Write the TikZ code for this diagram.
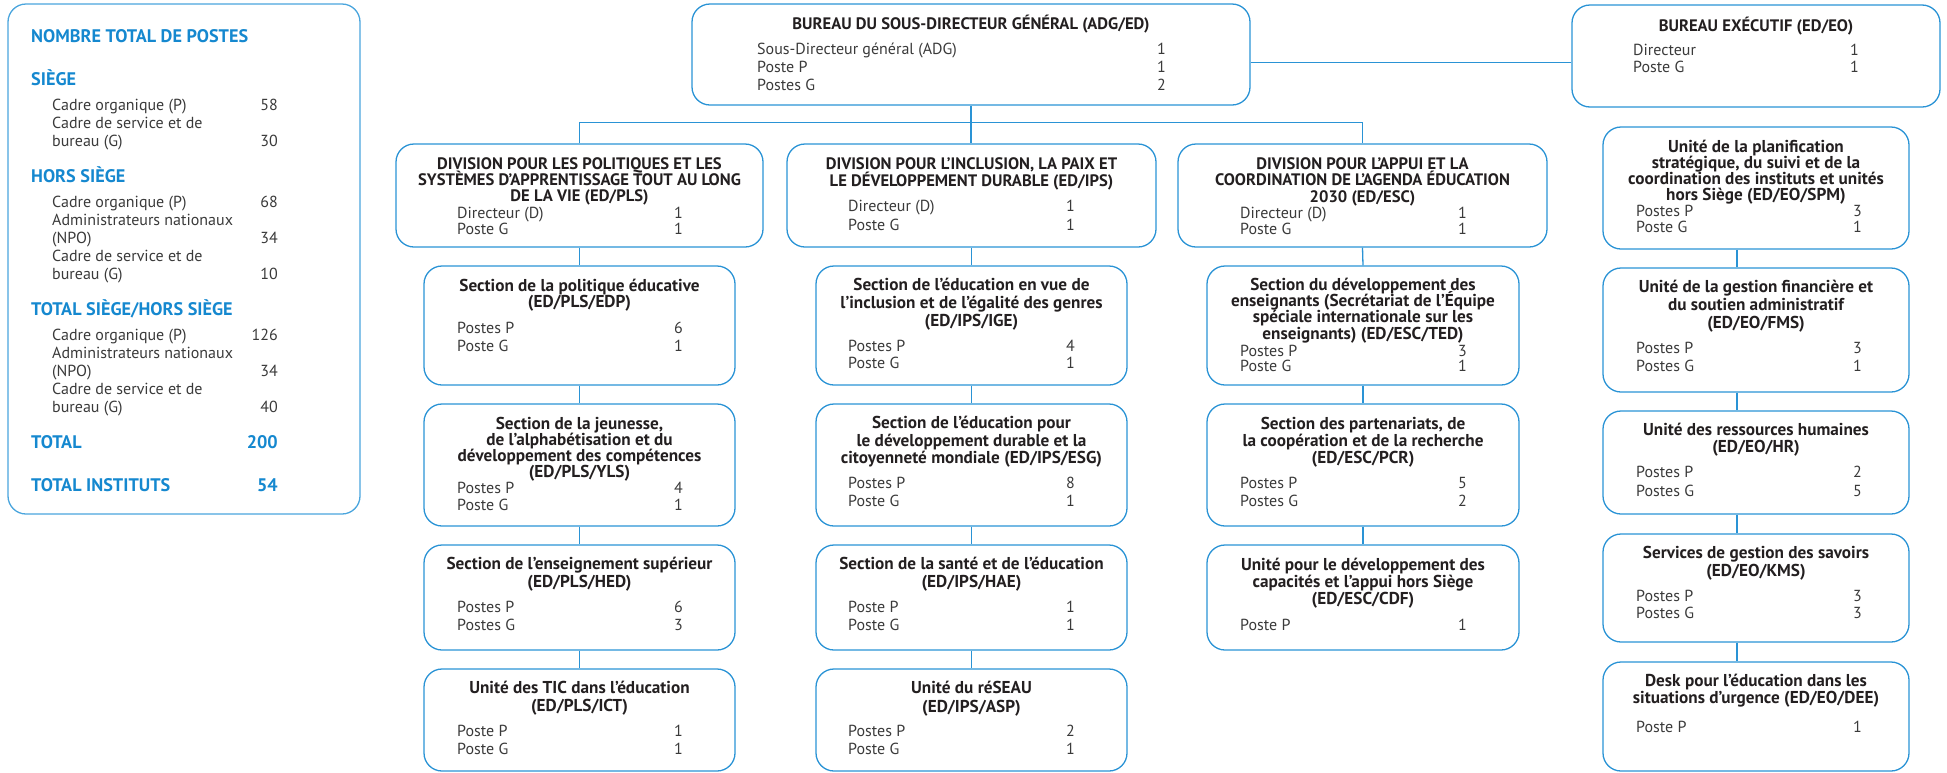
\documentclass[tikz,border=0pt]{standalone}
\usepackage{fontspec}
\setmainfont{PT Sans}
\usetikzlibrary{fit}
\definecolor{boxblue}{HTML}{2A93D5}
\definecolor{sumblue}{HTML}{4AA5DD}
\definecolor{headblue}{HTML}{1588CF}
\definecolor{ttlcol}{HTML}{231F20}
\definecolor{rowcol}{HTML}{3A3A3A}
\newcommand\ctrlines[2]{\vtop{\baselineskip=#1\lineskiplimit=-100pt\lineskip=0pt\halign{\hfil##\hfil\cr#2\crcr}}}
\newcommand\leftlines[2]{\vtop{\baselineskip=#1\lineskiplimit=-100pt\lineskip=0pt\halign{##\hfil\cr#2\crcr}}}
\newcommand\rightlines[2]{\vtop{\baselineskip=#1\lineskiplimit=-100pt\lineskip=0pt\halign{\hfil##\cr#2\crcr}}}
\tikzset{
  obox/.style={draw=boxblue, line width=1.3pt, rounded corners=18pt, inner sep=0pt},
  sumbox/.style={draw=sumblue, line width=1.3pt, rounded corners=18pt, inner sep=0pt},
  ttl/.style={font=\bfseries\fontsize{17.2}{17}\selectfont, text=ttlcol, inner sep=0pt, anchor=base},
  ttlcap/.style={font=\bfseries\fontsize{16.6}{17}\selectfont, text=ttlcol, inner sep=0pt, anchor=base},
  lbl/.style={font=\fontsize{16}{17.5}\selectfont, text=rowcol, inner sep=0pt, anchor=base west},
  num/.style={font=\fontsize{16}{17.5}\selectfont, text=rowcol, inner sep=0pt, anchor=base east},
  head/.style={font=\bfseries\fontsize{18.2}{18}\selectfont, text=headblue, inner sep=0pt, anchor=base west},
  headnum/.style={font=\bfseries\fontsize{18.2}{18}\selectfont, text=headblue, inner sep=0pt, anchor=base east},
  conn/.style={draw=boxblue, line width=1.3pt}
}
\begin{document}
\begin{tikzpicture}[x=1pt,y=-1pt]
\useasboundingbox (0,0) rectangle (1947,772);

% ---------- summary box ----------
\node[sumbox, fit={(8,4) (360,514)}] (sum) {};
\node[head] (sum-h1) at (31,42.3) {NOMBRE TOTAL DE POSTES};
\node[head] (sum-h2) at (31,85.7) {SIÈGE};
\node[lbl] (sum-l2) at (52,110) {\leftlines{18pt}{Cadre organique (P)\cr Cadre de service et de\cr bureau (G)}};
\node[num] (sum-n2) at (278,110) {\rightlines{18pt}{58\cr \cr 30}};
\node[head] (sum-h3) at (31,182) {HORS SIÈGE};
\node[lbl] (sum-l3) at (52,207) {\leftlines{18pt}{Cadre organique (P)\cr Administrateurs nationaux\cr (NPO)\cr Cadre de service et de\cr bureau (G)}};
\node[num] (sum-n3) at (278,207) {\rightlines{18pt}{68\cr \cr 34\cr \cr 10}};
\node[head] (sum-h4) at (31,315) {TOTAL SIÈGE/HORS SIÈGE};
\node[lbl] (sum-l4) at (52,340) {\leftlines{18.2pt}{Cadre organique (P)\cr Administrateurs nationaux\cr (NPO)\cr Cadre de service et de\cr bureau (G)}};
\node[num] (sum-n4) at (278,340) {\rightlines{18.2pt}{126\cr \cr 34\cr \cr 40}};
\node[head] (sum-h5) at (31,448) {TOTAL};
\node[headnum] (sum-n5) at (278,448) {200};
\node[head] (sum-h6) at (31,491) {TOTAL INSTITUTS};
\node[headnum] (sum-n6) at (278,491) {54};

% ---------- top offices ----------
\node[obox, fit={(692,4) (1250,105)}] (adg) {};
\node[ttlcap] (adg-t) at (971,29.3) {BUREAU DU SOUS-DIRECTEUR GÉNÉRAL (ADG/ED)};
\node[lbl] (adg-l) at (757,54.3) {\leftlines{18pt}{Sous-Directeur général (ADG)\cr Poste P\cr Postes G}};
\node[num] (adg-n) at (1166,54.3) {\rightlines{18pt}{1\cr 1\cr 2}};

\node[obox, fit={(1572,5) (1940,107)}] (exec) {};
\node[ttlcap] (exec-t) at (1756,31) {BUREAU EXÉCUTIF (ED/EO)};
\node[lbl] (exec-l) at (1633,55) {\leftlines{17.5pt}{Directeur\cr Poste G}};
\node[num] (exec-n) at (1859,55) {\rightlines{17.5pt}{1\cr 1}};

% ---------- divisions ----------
\node[obox, fit={(396,144) (763,247)}] (div1) {};
\node[ttlcap] (div1-t) at (579.5,169) {\ctrlines{16pt}{DIVISION POUR LES POLITIQUES ET LES\cr SYSTÈMES D’APPRENTISSAGE TOUT AU LONG\cr DE LA VIE (ED/PLS)}};
\node[lbl] (div1-l) at (457,218) {\leftlines{16pt}{Directeur (D)\cr Poste G}};
\node[num] (div1-n) at (683,218) {\rightlines{16pt}{1\cr 1}};

\node[obox, fit={(787,144) (1156,247)}] (div2) {};
\node[ttlcap] (div2-t) at (971.5,169.3) {\ctrlines{17.4pt}{DIVISION POUR L’INCLUSION, LA PAIX ET\cr LE DÉVELOPPEMENT DURABLE (ED/IPS)}};
\node[lbl] (div2-l) at (848,211.7) {\leftlines{18.3pt}{Directeur (D)\cr Poste G}};
\node[num] (div2-n) at (1075,211.7) {\rightlines{18.3pt}{1\cr 1}};

\node[obox, fit={(1178,144) (1547,247)}] (div3) {};
\node[ttlcap] (div3-t) at (1362.5,169.3) {\ctrlines{16.4pt}{DIVISION POUR L’APPUI ET LA\cr COORDINATION DE L’AGENDA ÉDUCATION\cr 2030 (ED/ESC)}};
\node[lbl] (div3-l) at (1240,218.7) {\leftlines{16pt}{Directeur (D)\cr Poste G}};
\node[num] (div3-n) at (1467,218.7) {\rightlines{16pt}{1\cr 1}};

% ---------- column 1 (PLS) ----------
\node[obox, fit={(424,266) (735,385)}] (edp) {};
\node[ttl] (edp-t) at (579.5,291) {\ctrlines{16.7pt}{Section de la politique éducative\cr (ED/PLS/EDP)}};
\node[lbl] (edp-l) at (457,333.5) {\leftlines{18.3pt}{Postes P\cr Poste G}};
\node[num] (edp-n) at (683,333.5) {\rightlines{18.3pt}{6\cr 1}};

\node[obox, fit={(424,404) (735,526)}] (yls) {};
\node[ttl] (yls-t) at (579.5,429.3) {\ctrlines{16.1pt}{Section de la jeunesse,\cr de l’alphabétisation et du\cr développement des compétences\cr (ED/PLS/YLS)}};
\node[lbl] (yls-l) at (457,493.3) {\leftlines{17pt}{Postes P\cr Poste G}};
\node[num] (yls-n) at (683,493.3) {\rightlines{17pt}{4\cr 1}};

\node[obox, fit={(424,545) (735,650)}] (hed) {};
\node[ttl] (hed-t) at (579.5,569.3) {\ctrlines{18.4pt}{Section de l’enseignement supérieur\cr (ED/PLS/HED)}};
\node[lbl] (hed-l) at (457,612.7) {\leftlines{17.6pt}{Postes P\cr Postes G}};
\node[num] (hed-n) at (683,612.7) {\rightlines{17.6pt}{6\cr 3}};

\node[obox, fit={(424,669) (735,771)}] (ict) {};
\node[ttl] (ict-t) at (579.5,693.3) {\ctrlines{18.4pt}{Unité des TIC dans l’éducation\cr (ED/PLS/ICT)}};
\node[lbl] (ict-l) at (457,736.7) {\leftlines{17.6pt}{Poste P\cr Poste G}};
\node[num] (ict-n) at (683,736.7) {\rightlines{17.6pt}{1\cr 1}};

% ---------- column 2 (IPS) ----------
\node[obox, fit={(816,266) (1127,385)}] (ige) {};
\node[ttl] (ige-t) at (971.5,290.3) {\ctrlines{18pt}{Section de l’éducation en vue de\cr l’inclusion et de l’égalité des genres\cr (ED/IPS/IGE)}};
\node[lbl] (ige-l) at (848,351) {\leftlines{17.3pt}{Postes P\cr Poste G}};
\node[num] (ige-n) at (1075,351) {\rightlines{17.3pt}{4\cr 1}};

\node[obox, fit={(816,404) (1127,526)}] (esg) {};
\node[ttl] (esg-t) at (971.5,428.7) {\ctrlines{17.3pt}{Section de l’éducation pour\cr le développement durable et la\cr citoyenneté mondiale (ED/IPS/ESG)}};
\node[lbl] (esg-l) at (848,488.3) {\leftlines{18.4pt}{Postes P\cr Poste G}};
\node[num] (esg-n) at (1075,488.3) {\rightlines{18.4pt}{8\cr 1}};

\node[obox, fit={(816,545) (1127,650)}] (hae) {};
\node[ttl] (hae-t) at (971.5,569.3) {\ctrlines{18.4pt}{Section de la santé et de l’éducation\cr (ED/IPS/HAE)}};
\node[lbl] (hae-l) at (848,612) {\leftlines{18.3pt}{Poste P\cr Poste G}};
\node[num] (hae-n) at (1075,612) {\rightlines{18.3pt}{1\cr 1}};

\node[obox, fit={(816,669) (1127,771)}] (asp) {};
\node[ttl] (asp-t) at (971.5,693.3) {\ctrlines{18.7pt}{Unité du réSEAU\cr (ED/IPS/ASP)}};
\node[lbl] (asp-l) at (848,736.7) {\leftlines{17.6pt}{Postes P\cr Poste G}};
\node[num] (asp-n) at (1075,736.7) {\rightlines{17.6pt}{2\cr 1}};

% ---------- column 3 (ESC) ----------
\node[obox, fit={(1207,266) (1519,385)}] (ted) {};
\node[ttl] (ted-t) at (1363,290.3) {\ctrlines{16.3pt}{Section du développement des\cr enseignants (Secrétariat de l’Équipe\cr spéciale internationale sur les\cr enseignants) (ED/ESC/TED)}};
\node[lbl] (ted-l) at (1240,356) {\leftlines{15.7pt}{Postes P\cr Poste G}};
\node[num] (ted-n) at (1467,356) {\rightlines{15.7pt}{3\cr 1}};

\node[obox, fit={(1207,404) (1519,526)}] (pcr) {};
\node[ttl] (pcr-t) at (1363,429) {\ctrlines{17.2pt}{Section des partenariats, de\cr la coopération et de la recherche\cr (ED/ESC/PCR)}};
\node[lbl] (pcr-l) at (1240,488.3) {\leftlines{18.4pt}{Postes P\cr Postes G}};
\node[num] (pcr-n) at (1467,488.3) {\rightlines{18.4pt}{5\cr 2}};

\node[obox, fit={(1207,545) (1519,650)}] (cdf) {};
\node[ttl] (cdf-t) at (1363,570) {\ctrlines{17.2pt}{Unité pour le développement des\cr capacités et l’appui hors Siège\cr (ED/ESC/CDF)}};
\node[lbl] (cdf-l) at (1240,630.3) {Poste P};
\node[num] (cdf-n) at (1467,630.3) {1};

% ---------- column 4 (EO) ----------
\node[obox, fit={(1603,127) (1909,249)}] (spm) {};
\node[ttl] (spm-t) at (1756,152) {\ctrlines{16.1pt}{Unité de la planification\cr stratégique, du suivi et de la\cr coordination des instituts et unités\cr hors Siège (ED/EO/SPM)}};
\node[lbl] (spm-l) at (1636,216.7) {\leftlines{16pt}{Postes P\cr Poste G}};
\node[num] (spm-n) at (1862,216.7) {\rightlines{16pt}{3\cr 1}};

\node[obox, fit={(1603,268) (1909,392)}] (fms) {};
\node[ttl] (fms-t) at (1756,292) {\ctrlines{18.2pt}{Unité de la gestion financière et\cr du soutien administratif\cr (ED/EO/FMS)}};
\node[lbl] (fms-l) at (1636,353.3) {\leftlines{18.4pt}{Postes P\cr Postes G}};
\node[num] (fms-n) at (1862,353.3) {\rightlines{18.4pt}{3\cr 1}};

\node[obox, fit={(1603,411) (1909,514)}] (hr) {};
\node[ttl] (hr-t) at (1756,435.3) {\ctrlines{16.7pt}{Unité des ressources humaines\cr (ED/EO/HR)}};
\node[lbl] (hr-l) at (1636,477) {\leftlines{19pt}{Postes P\cr Postes G}};
\node[num] (hr-n) at (1862,477) {\rightlines{19pt}{2\cr 5}};

\node[obox, fit={(1603,534) (1909,642)}] (kms) {};
\node[ttl] (kms-t) at (1756,558.3) {\ctrlines{17.7pt}{Services de gestion des savoirs\cr (ED/EO/KMS)}};
\node[lbl] (kms-l) at (1636,601) {\leftlines{17.7pt}{Postes P\cr Postes G}};
\node[num] (kms-n) at (1862,601) {\rightlines{17.7pt}{3\cr 3}};

\node[obox, fit={(1603,662) (1909,771)}] (dee) {};
\node[ttl] (dee-t) at (1756,686) {\ctrlines{17.3pt}{Desk pour l’éducation dans les\cr situations d’urgence (ED/EO/DEE)}};
\node[lbl] (dee-l) at (1636,732) {Poste P};
\node[num] (dee-n) at (1862,732) {1};

% ---------- connectors ----------
\draw[conn] (adg.south) -- (adg.south |- div2.north);
\draw[conn] (div1.north) -- ++(0,-21) -| (div3.north);
\draw[conn] ([yshift=-8pt]adg.east) -- ([yshift=-8pt]adg.east -| exec.west);
\draw[conn] (div1.south) -- (edp.north);
\draw[conn] (edp.south) -- (yls.north);
\draw[conn] (yls.south) -- (hed.north);
\draw[conn] (hed.south) -- (ict.north);
\draw[conn] (div2.south) -- (ige.north);
\draw[conn] (ige.south) -- (esg.north);
\draw[conn] (esg.south) -- (hae.north);
\draw[conn] (hae.south) -- (asp.north);
\draw[conn] (div3.south) -- (ted.north);
\draw[conn] (ted.south) -- (pcr.north);
\draw[conn] (pcr.south) -- (cdf.north);
\draw[conn] ([xshift=-19pt]spm.south) -- ([xshift=-19pt]fms.north);
\draw[conn] ([xshift=-19pt]fms.south) -- ([xshift=-19pt]hr.north);
\draw[conn] ([xshift=-19pt]hr.south) -- ([xshift=-19pt]kms.north);
\draw[conn] ([xshift=-19pt]kms.south) -- ([xshift=-19pt]dee.north);
\end{tikzpicture}
\end{document}
